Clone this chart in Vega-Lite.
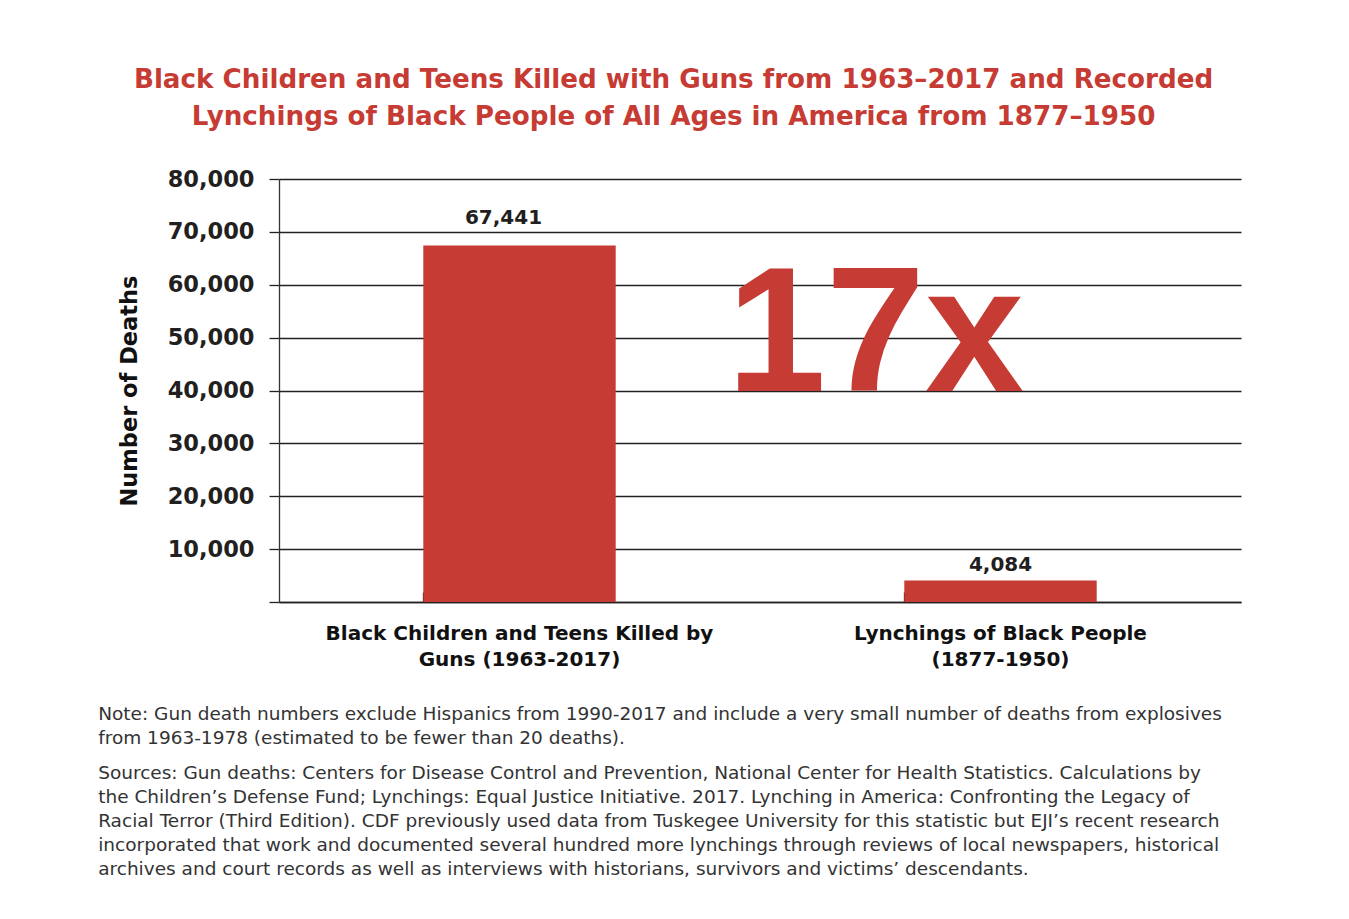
{
  "$schema": "https://vega.github.io/schema/vega-lite/v6.json",
  "padding": {"left": 98, "top": 66, "right": 108, "bottom": 5},
  "background": "white",
  "title": {
    "text": ["Note: Gun death numbers exclude Hispanics from 1990-2017 and include a very small number of deaths from explosives", "from 1963-1978 (estimated to be fewer than 20 deaths)."],
    "subtitle": ["Sources: Gun deaths: Centers for Disease Control and Prevention, National Center for Health Statistics. Calculations by", "the Children’s Defense Fund; Lynchings: Equal Justice Initiative. 2017. Lynching in America: Confronting the Legacy of", "Racial Terror (Third Edition). CDF previously used data from Tuskegee University for this statistic but EJI’s recent research", "incorporated that work and documented several hundred more lynchings through reviews of local newspapers, historical", "archives and court records as well as interviews with historians, survivors and victims’ descendants."],
    "orient": "bottom",
    "anchor": "start",
    "frame": "bounds",
    "dx": -20,
    "offset": 36,
    "font": "DejaVu Sans",
    "fontSize": 18.5,
    "fontWeight": "normal",
    "color": "#333333",
    "lineHeight": 24,
    "subtitleFont": "DejaVu Sans",
    "subtitleFontSize": 18.5,
    "subtitleColor": "#333333",
    "subtitleLineHeight": 24,
    "subtitlePadding": 16
  },
  "vconcat": [
    {
      "width": 962,
      "height": 423,
      "title": {
        "text": ["Black Children and Teens Killed with Guns from 1963–2017 and Recorded", "Lynchings of Black People of All Ages in America from 1877–1950"],
        "anchor": "middle",
        "frame": "bounds",
        "dx": -6,
        "font": "DejaVu Sans",
        "fontSize": 26.2,
        "fontWeight": "bold",
        "color": "#C63B33",
        "lineHeight": 37,
        "offset": 38
      },
      "data": {"values": [
        {"category": "Black Children and Teens Killed by Guns (1963-2017)", "deaths": 67441},
        {"category": "Lynchings of Black People (1877-1950)", "deaths": 4084}
      ]},
      "encoding": {
        "x": {
          "field": "category",
          "type": "nominal",
          "sort": null,
          "scale": {"paddingInner": 0.6, "paddingOuter": 0.3},
          "axis": {
            "title": null,
            "labelAngle": 0,
            "labelLimit": 0,
            "labelExpr": "datum.value == 'Black Children and Teens Killed by Guns (1963-2017)' ? ['Black Children and Teens Killed by', 'Guns (1963-2017)'] : ['Lynchings of Black People', '(1877-1950)']",
            "labelFont": "DejaVu Sans",
            "labelFontSize": 20,
            "labelFontWeight": "bold",
            "labelColor": "#111111",
            "labelLineHeight": 26,
            "labelPadding": 31,
            "bandPosition": 0,
            "tickSize": -10,
            "tickColor": "#222222",
            "domainColor": "#222222",
            "domainWidth": 1.3,
            "tickWidth": 1.3
          }
        },
        "y": {
          "field": "deaths",
          "type": "quantitative",
          "scale": {"domain": [0, 80000], "nice": false},
          "axis": {
            "title": "Number of Deaths",
            "titleFont": "DejaVu Sans",
            "titleFontSize": 22.5,
            "titleFontWeight": "bold",
            "titleColor": "#111111",
            "titlePadding": 26,
            "values": [0, 10000, 20000, 30000, 40000, 50000, 60000, 70000, 80000],
            "labelExpr": "datum.value == 0 ? '' : format(datum.value, ',')",
            "labelFont": "DejaVu Sans",
            "labelFontSize": 22.5,
            "labelFontWeight": "bold",
            "labelColor": "#231f20",
            "labelPadding": 15,
            "tickSize": 10,
            "tickColor": "#222222",
            "tickWidth": 1.3,
            "grid": true,
            "gridColor": "#222222",
            "gridWidth": 1.3,
            "gridOpacity": 1,
            "domainColor": "#333333",
            "domainWidth": 1.3
          }
        }
      },
      "layer": [
        {"mark": {"type": "bar", "color": "#C63B33"}},
        {
          "transform": [{"filter": "datum.deaths > 10000"}],
          "mark": {"type": "text", "baseline": "alphabetic", "dy": -21, "dx": -16, "font": "DejaVu Sans", "fontSize": 20, "fontWeight": "bold", "color": "#231f20"},
          "encoding": {"text": {"field": "deaths", "type": "quantitative", "format": ","}}
        },
        {
          "transform": [{"filter": "datum.deaths <= 10000"}],
          "mark": {"type": "text", "baseline": "alphabetic", "dy": -9, "font": "DejaVu Sans", "fontSize": 20, "fontWeight": "bold", "color": "#231f20"},
          "encoding": {"text": {"field": "deaths", "type": "quantitative", "format": ","}}
        },
        {
          "data": {"values": [{"category": "Lynchings of Black People (1877-1950)", "deaths": 40000, "multiple": "17x"}]},
          "mark": {"type": "text", "baseline": "alphabetic", "align": "center", "dx": -125, "font": "Liberation Sans", "fontSize": 178, "fontWeight": "bold", "color": "#C63B33"},
          "encoding": {"text": {"field": "multiple", "type": "nominal"}}
        }
      ]
    }
  ],
  "config": {"view": {"stroke": null}}
}
